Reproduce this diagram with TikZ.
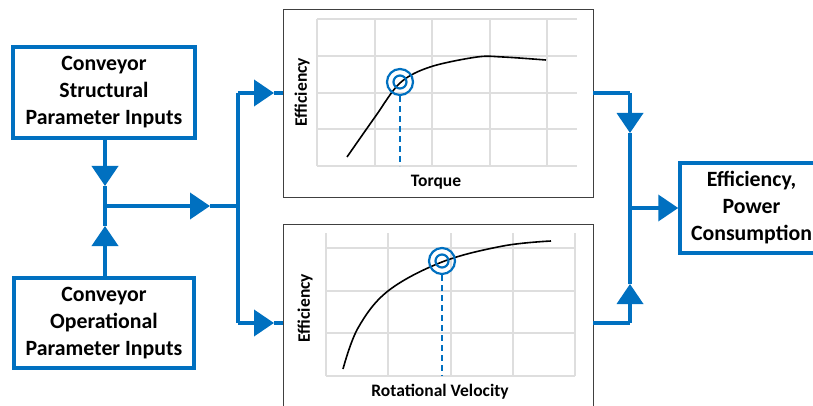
\documentclass[tikz,border=0pt]{standalone}
\usepackage{fontspec}
\setmainfont{Carlito}
\usetikzlibrary{arrows.meta}
\definecolor{bl}{RGB}{0,112,192}
\definecolor{gridc}{RGB}{222,222,222}
\definecolor{framec}{RGB}{64,64,64}
\tikzset{
  inbox/.style={draw=bl, line width=3.5pt, fill=white, align=center, inner sep=1pt,
    font=\bfseries\fontsize{21.8}{27}\selectfont},
  conn/.style={draw=bl, line width=3.8pt},
  tipped/.style={conn, -{Triangle[length=20pt,width=26pt]}},
  chartframe/.style={draw=framec, line width=1pt},
  gridline/.style={draw=gridc, line width=1.2pt},
  curve/.style={draw=black, line width=1.6pt, line join=round},
  targetring/.style={draw=bl, line width=2.2pt},
  dropline/.style={draw=bl, line width=1.8pt, dash pattern=on 6pt off 4pt},
  axislabel/.style={inner sep=1pt, font=\bfseries\fontsize{17.5}{19}\selectfont}
}
\begin{document}
\begin{tikzpicture}[x=1pt,y=-1pt]
\useasboundingbox (0,0) rectangle (813,406);

% ---- input boxes
\node[inbox, minimum width=182pt, minimum height=91pt] (s) at (104,92.5) {Conveyor\\Structural\\Parameter Inputs};
\node[inbox, minimum width=180pt, minimum height=90pt] (o) at (104,323) {Conveyor\\Operational\\Parameter Inputs};

% ---- chart 1
\draw[chartframe] (283,10) rectangle (593,197);
\foreach \x in {317,375,432,490,547} \draw[gridline] (\x,19) -- (\x,166);
\foreach \y in {19,56,93,129,166} \draw[gridline] (317,\y) -- (577,\y);
\draw[curve] plot[smooth, tension=0.55] coordinates {(347,157) (375,117) (400,83) (430,67) (477,57) (503,57) (546,60)};
\coordinate (p1) at (400,82);
\draw[targetring] (p1) circle (13pt);
\draw[targetring] (p1) circle (6.5pt);
\draw[dropline] (400,96) -- (400,166);
\node[axislabel, rotate=90] (e1) at (302,92) {Efficiency};
\node[axislabel] (tq) at (436,182) {Torque};

% ---- chart 2
\draw[chartframe] (283,415) -- (283,224) -- (593,224) -- (593,415);
\foreach \x in {326,388,451,513,575} \draw[gridline] (\x,233) -- (\x,376);
\foreach \y in {248,291,333,376} \draw[gridline] (326,\y) -- (575,\y);
\draw[curve] plot[smooth, tension=0.6] coordinates {(343,369) (358,328) (388,291) (442,262) (503,246) (551,241)};
\coordinate (p2) at (442,261);
\draw[targetring] (p2) circle (13pt);
\draw[targetring] (p2) circle (6.5pt);
\draw[dropline] (442,275) -- (442,376);
\node[axislabel, rotate=90] (e2) at (305,308) {Efficiency};
\node[axislabel] (rv) at (440,392) {Rotational Velocity};

\coordinate (c1w) at (283,93);
\coordinate (c1e) at (593,93);
\coordinate (c2w) at (283,323);
\coordinate (c2e) at (593,323);

% ---- output box
\node[inbox, minimum width=143pt, minimum height=90pt] (out) at (751.5,208) {Efficiency,\\Power\\Consumption};

% ---- left connectors
\coordinate (j1) at (105,206);
\coordinate (t1) at (105,186);
\coordinate (t2) at (105,226);
\coordinate (t3) at (210,206);
\coordinate (sp) at (238,206);
\coordinate (spt) at (238,93);
\coordinate (spb) at (238,323);
\coordinate (t4) at (274,93);
\coordinate (t5) at (274,323);
\draw[tipped] (s.south -| j1) -- (t1);
\draw[conn] (t1) -- (j1);
\draw[tipped] (o.north -| j1) -- (t2);
\draw[conn] (t2) -- (j1);
\draw[tipped] (j1) -- (t3);
\draw[conn] (t3) -- (sp);
\draw[conn] (spt) -- (spb);
\draw[tipped] (spt) -- (t4);
\draw[conn] (t4) -- (c1w);
\draw[tipped] (spb) -- (t5);
\draw[conn] (t5) -- (c2w);

% ---- right connectors
\coordinate (rt) at (630,93);
\coordinate (rb) at (630,323);
\coordinate (j2) at (630,208);
\coordinate (t6) at (630,133);
\coordinate (t7) at (630,284);
\draw[conn] (c1e) -- (rt);
\draw[tipped] (rt) -- (t6);
\draw[conn] (t6) -- (j2);
\draw[conn] (c2e) -- (rb);
\draw[tipped] (rb) -- (t7);
\draw[conn] (t7) -- (j2);
\draw[tipped] (j2) -- (out.west);
\end{tikzpicture}
\end{document}
